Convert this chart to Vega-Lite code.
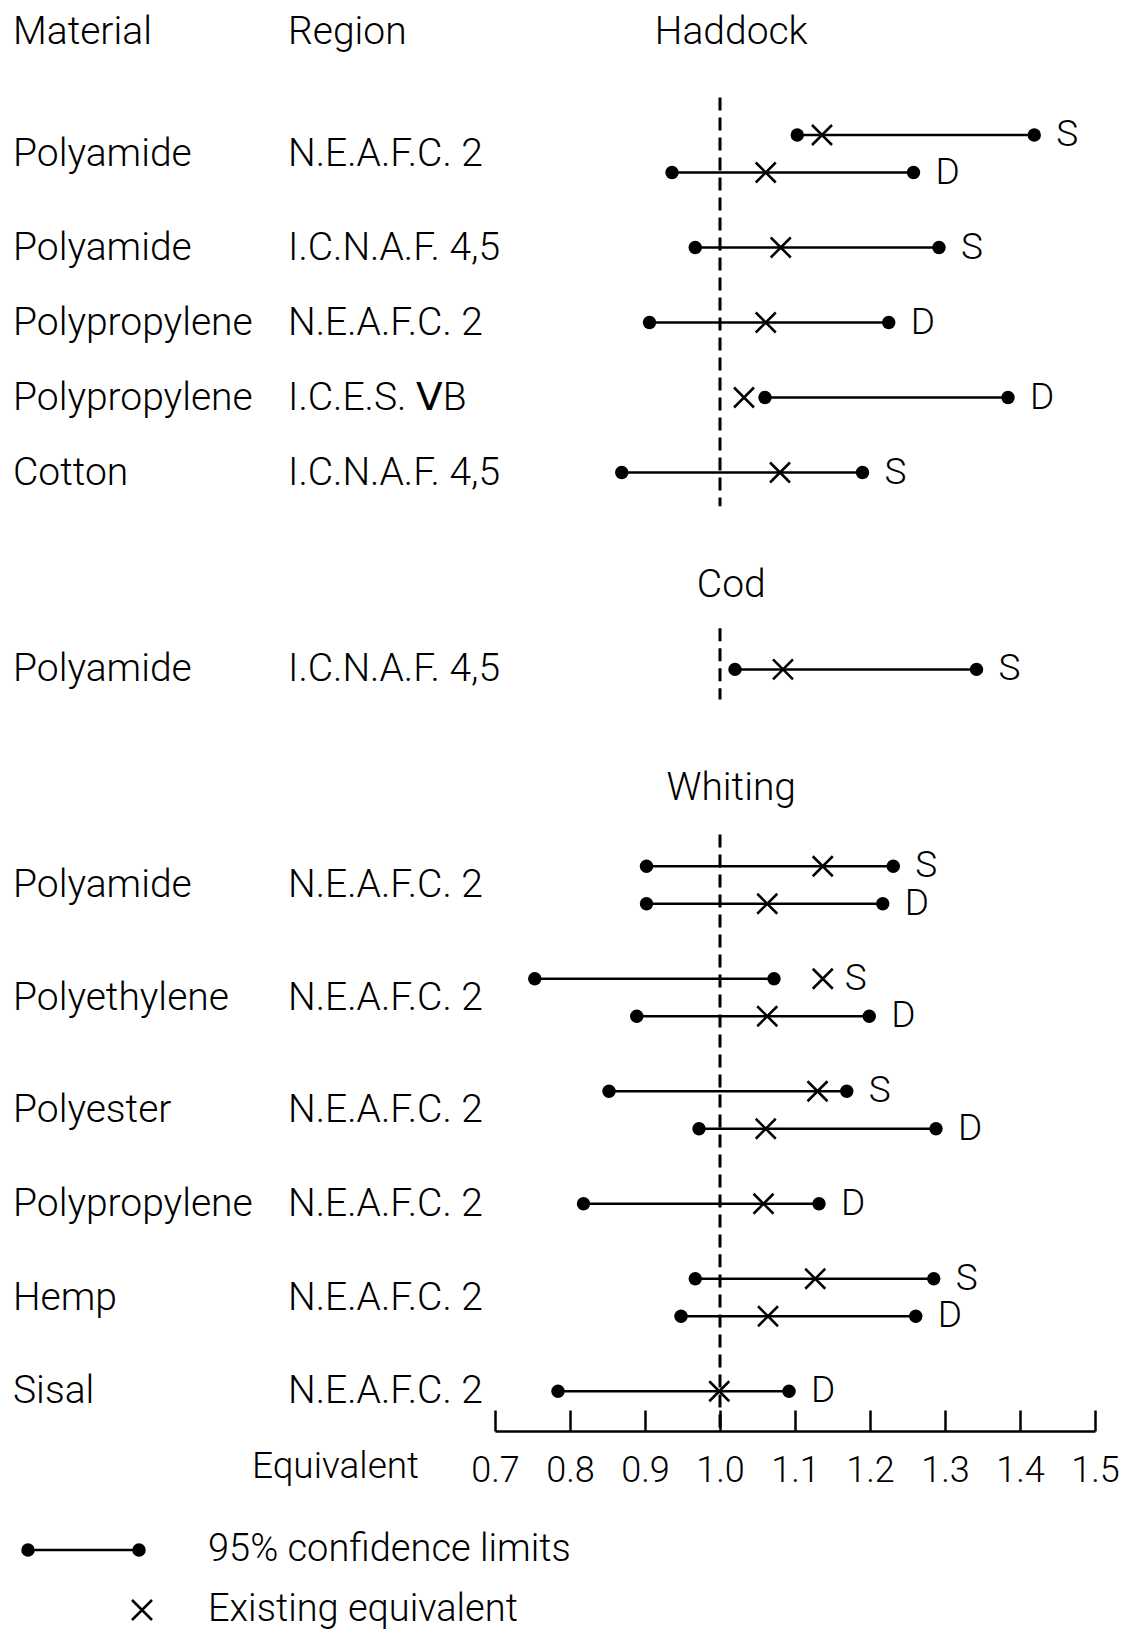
{
  "$schema": "https://vega.github.io/schema/vega-lite/v6.json",
  "padding": 0,
  "spacing": 5,
  "bounds": "flush",
  "background": "white",
  "config": {
    "view": {"stroke": null},
    "font": "Roboto",
    "text": {"font": "Roboto", "fontSize": 39, "fontWeight": 300, "color": "black"},
    "axis": {
      "domainColor": "black", "domainWidth": 2.5,
      "tickColor": "black", "tickWidth": 2.5, "tickSize": -21,
      "labelFont": "Roboto", "labelFontSize": 36, "labelFontWeight": 300, "labelColor": "black", "labelPadding": 43,
      "labelFlush": false, "labelOverlap": false, "grid": false,
      "titleFont": "Roboto", "titleFontSize": 37, "titleFontWeight": 300, "titleColor": "black",
      "titleX": -160, "titleY": 35, "titleAlign": "center", "titleBaseline": "middle"
    }
  },
  "datasets": {
    "rows": [
      {"fish": "Haddock", "material": "Polyamide", "region": "N.E.A.F.C. 2", "line": "S", "lower": 1.103, "existing": 1.136, "upper": 1.419, "row": 0},
      {"fish": "Haddock", "material": "Polyamide", "region": "N.E.A.F.C. 2", "line": "D", "lower": 0.936, "existing": 1.061, "upper": 1.258, "row": 1},
      {"fish": "Haddock", "material": "Polyamide", "region": "I.C.N.A.F. 4,5", "line": "S", "lower": 0.967, "existing": 1.081, "upper": 1.292, "row": 3},
      {"fish": "Haddock", "material": "Polypropylene", "region": "N.E.A.F.C. 2", "line": "D", "lower": 0.906, "existing": 1.061, "upper": 1.225, "row": 5},
      {"fish": "Haddock", "material": "Polypropylene", "region": "I.C.E.S. ⅤB", "line": "D", "lower": 1.06, "existing": 1.032, "upper": 1.384, "row": 7},
      {"fish": "Haddock", "material": "Cotton", "region": "I.C.N.A.F. 4,5", "line": "S", "lower": 0.869, "existing": 1.08, "upper": 1.19, "row": 9},
      {"fish": "Cod", "material": "Polyamide", "region": "I.C.N.A.F. 4,5", "line": "S", "lower": 1.02, "existing": 1.084, "upper": 1.342, "row": 14.25},
      {"fish": "Whiting", "material": "Polyamide", "region": "N.E.A.F.C. 2", "line": "S", "lower": 0.902, "existing": 1.137, "upper": 1.231, "row": 19.5},
      {"fish": "Whiting", "material": "Polyamide", "region": "N.E.A.F.C. 2", "line": "D", "lower": 0.902, "existing": 1.063, "upper": 1.217, "row": 20.5},
      {"fish": "Whiting", "material": "Polyethylene", "region": "N.E.A.F.C. 2", "line": "S", "lower": 0.753, "existing": 1.137, "upper": 1.072, "row": 22.5},
      {"fish": "Whiting", "material": "Polyethylene", "region": "N.E.A.F.C. 2", "line": "D", "lower": 0.889, "existing": 1.063, "upper": 1.199, "row": 23.5},
      {"fish": "Whiting", "material": "Polyester", "region": "N.E.A.F.C. 2", "line": "S", "lower": 0.852, "existing": 1.13, "upper": 1.169, "row": 25.5},
      {"fish": "Whiting", "material": "Polyester", "region": "N.E.A.F.C. 2", "line": "D", "lower": 0.972, "existing": 1.061, "upper": 1.288, "row": 26.5},
      {"fish": "Whiting", "material": "Polypropylene", "region": "N.E.A.F.C. 2", "line": "D", "lower": 0.818, "existing": 1.058, "upper": 1.132, "row": 28.5},
      {"fish": "Whiting", "material": "Hemp", "region": "N.E.A.F.C. 2", "line": "S", "lower": 0.967, "existing": 1.127, "upper": 1.285, "row": 30.5},
      {"fish": "Whiting", "material": "Hemp", "region": "N.E.A.F.C. 2", "line": "D", "lower": 0.948, "existing": 1.064, "upper": 1.261, "row": 31.5},
      {"fish": "Whiting", "material": "Sisal", "region": "N.E.A.F.C. 2", "line": "D", "lower": 0.784, "existing": 0.999, "upper": 1.092, "row": 33.5}
    ],
    "sections": [
      {"fish": "Haddock", "title_row": -2.75, "from": -1, "to": 9.9},
      {"fish": "Cod", "title_row": 12, "from": 13.15, "to": 15.05},
      {"fish": "Whiting", "title_row": 17.4, "from": 18.65, "to": 34.56}
    ],
    "headers": [
      {"column": "Material"},
      {"column": "Region"}
    ]
  },
  "hconcat": [
    {
      "width": 490,
      "height": 1629,
      "layer": [
        {
          "data": {"name": "headers"},
          "mark": {"type": "text", "align": "left", "baseline": "middle"},
          "encoding": {
            "x": {"field": "column", "type": "nominal", "scale": {"type": "point", "domain": ["Material", "Region"], "range": [13, 288], "padding": 0}, "axis": null},
            "y": {"datum": -2.75, "type": "quantitative", "scale": {"domain": [-3.6, 39.84], "reverse": true, "nice": false, "zero": false}, "axis": null},
            "text": {"field": "column"}
          }
        },
        {
          "data": {"name": "rows"},
          "transform": [{"aggregate": [{"op": "mean", "field": "row", "as": "row"}], "groupby": ["fish", "material", "region"]}],
          "mark": {"type": "text", "align": "left", "baseline": "middle"},
          "encoding": {
            "x": {"datum": "Material", "type": "nominal"},
            "y": {"field": "row", "type": "quantitative"},
            "text": {"field": "material"}
          }
        },
        {
          "data": {"name": "rows"},
          "transform": [{"aggregate": [{"op": "mean", "field": "row", "as": "row"}], "groupby": ["fish", "material", "region"]}],
          "mark": {"type": "text", "align": "left", "baseline": "middle"},
          "encoding": {
            "x": {"datum": "Region", "type": "nominal"},
            "y": {"field": "row", "type": "quantitative"},
            "text": {"field": "region"}
          }
        }
      ]
    },
    {
      "width": 600,
      "height": 1431,
      "layer": [
        {
          "data": {"name": "sections"},
          "mark": {"type": "rule", "color": "black", "strokeWidth": 3, "strokeDash": [13, 7]},
          "encoding": {
            "x": {"datum": 1, "type": "quantitative", "scale": {"domain": [0.7, 1.5], "nice": false, "zero": false},
                  "axis": {"values": [0.7, 0.8, 0.9, 1.0, 1.1, 1.2, 1.3, 1.4, 1.5], "format": ".1f", "title": "Equivalent"}},
            "y": {"field": "from", "type": "quantitative", "scale": {"domain": [-3.6, 34.56], "reverse": true, "nice": false, "zero": false}, "axis": null},
            "y2": {"field": "to"}
          }
        },
        {
          "data": {"name": "sections"},
          "mark": {"type": "text", "align": "center", "baseline": "middle"},
          "encoding": {
            "x": {"datum": 1.015, "type": "quantitative"},
            "y": {"field": "title_row", "type": "quantitative"},
            "text": {"field": "fish"}
          }
        },
        {
          "data": {"name": "rows"},
          "mark": {"type": "rule", "color": "black", "strokeWidth": 2.5},
          "encoding": {
            "x": {"field": "lower", "type": "quantitative", "title": "Equivalent"},
            "x2": {"field": "upper"},
            "y": {"field": "row", "type": "quantitative"}
          }
        },
        {
          "data": {"name": "rows"},
          "transform": [{"fold": ["lower", "upper"], "as": ["kind", "value"]}],
          "mark": {"type": "point", "shape": "circle", "filled": true, "color": "black", "size": 180, "opacity": 1},
          "encoding": {
            "x": {"field": "value", "type": "quantitative", "title": "Equivalent"},
            "y": {"field": "row", "type": "quantitative"}
          }
        },
        {
          "data": {"name": "rows"},
          "transform": [{"fold": ["existing"], "as": ["kind", "value"]}],
          "mark": {"type": "point", "filled": false, "color": "black", "stroke": "black", "strokeWidth": 2.5, "size": 400, "opacity": 1},
          "encoding": {
            "x": {"field": "value", "type": "quantitative", "title": "Equivalent"},
            "y": {"field": "row", "type": "quantitative"},
            "shape": {
              "field": "kind", "type": "nominal",
              "scale": {"domain": ["upper", "existing"], "range": ["M-11.4,0L-0.3,0M-10.85,0A0.55,0.55,0,1,1,-11.95,0A0.55,0.55,0,1,1,-10.85,0M-11.05,0A0.35,0.35,0,1,1,-11.75,0A0.35,0.35,0,1,1,-11.05,0M-11.25,0A0.15,0.15,0,1,1,-11.55,0A0.15,0.15,0,1,1,-11.25,0M0.25,0A0.55,0.55,0,1,1,-0.85,0A0.55,0.55,0,1,1,0.25,0M0.05,0A0.35,0.35,0,1,1,-0.65,0A0.35,0.35,0,1,1,0.05,0M-0.15,0A0.15,0.15,0,1,1,-0.45,0A0.15,0.15,0,1,1,-0.15,0", "M-1,-1L1,1M-1,1L1,-1"]},
              "legend": {
                "title": null,
                "orient": "none", "legendX": 123, "legendY": 1531, "padding": 0,
                "labelFont": "Roboto", "labelFontSize": 38, "labelFontWeight": 300, "labelColor": "black",
                "labelOffset": 47, "labelLimit": 0, "rowPadding": 22, "symbolSize": 400,
                "symbolStrokeColor": "black", "symbolStrokeWidth": 2.5, "symbolOpacity": 1,
                "values": ["upper", "existing"],
                "labelExpr": "datum.value === 'upper' ? '95% confidence limits' : 'Existing equivalent'"
              }
            }
          }
        },
        {
          "data": {"name": "rows"},
          "transform": [
            {"fold": ["upper", "existing"], "as": ["kind", "value"]},
            {"aggregate": [{"op": "max", "field": "value", "as": "right"}], "groupby": ["row", "line"]}
          ],
          "mark": {"type": "text", "align": "left", "baseline": "middle", "dx": 22, "fontSize": 37},
          "encoding": {
            "x": {"field": "right", "type": "quantitative", "title": "Equivalent"},
            "y": {"field": "row", "type": "quantitative"},
            "text": {"field": "line"}
          }
        }
      ]
    }
  ],
  "resolve": {"scale": {"x": "independent", "y": "independent"}}
}
